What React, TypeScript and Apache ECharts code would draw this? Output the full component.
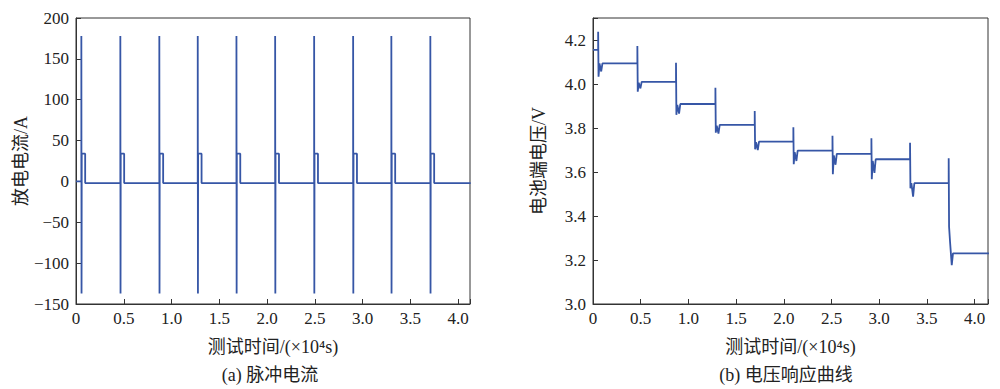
import { useEffect, useRef } from 'react';
import * as echarts from 'echarts';

// ---- (a) pulse current, A ----
const currentPulseTimes = [0.056, 0.464, 0.872, 1.274, 1.679, 2.084, 2.492, 2.9, 3.3, 3.708];
const currentInitial = 0;
const currentSpikeHigh = [178, 178, 178, 178, 178, 178, 178, 178, 178, 178];
const currentSpikeLow = [-137, -137, -137, -137, -137, -137, -137, -137, -137, -137];
const currentPulseLevel = [34, 34, 34, 34, 34, 34, 34, 34, 34, 34];
const currentRest = -2;
const currentPulseWidth = 0.04;
const currentEnd = 4.13;

// ---- (b) terminal voltage response, V ----
const voltagePulseTimes = [0.054, 0.465, 0.87, 1.283, 1.695, 2.1, 2.51, 2.918, 3.323, 3.728];
const voltageInitial = 4.155;
const voltageSpikeUp = [4.238, 4.173, 4.097, 3.983, 3.877, 3.803, 3.765, 3.753, 3.733, 3.662];
const voltageDip1 = [4.033, 3.965, 3.86, 3.779, 3.703, 3.635, 3.59, 3.567, 3.526, 3.351];
const voltageBump = [4.094, 4.006, 3.905, 3.81, 3.735, 3.69, 3.675, 3.65, 3.55, 3.284];
const voltageDip2 = [4.057, 3.98, 3.865, 3.775, 3.7, 3.65, 3.633, 3.596, 3.488, 3.177];
const voltageSettle = [4.094, 4.01, 3.909, 3.814, 3.738, 3.697, 3.682, 3.658, 3.549, 3.23];
const voltageEnd = 4.15;

// axis ranges / ticks
const xMaxA = 4.123;
const xMaxB = 4.14;
const xInterval = 0.5;
const yA = { min: -150, max: 200, interval: 50 };
const yB = { min: 3.0, max: 4.3, interval: 0.2 };

const xName = '测试时间/(×10⁴s)';
const yNameA = '放电电流/A';
const yNameB = '电池端电压/V';
const captionA = '(a) 脉冲电流';
const captionB = '(b) 电压响应曲线';

const LINE = '#3656a6';
const AXIS = '#333333';
const NUM_FONT = 'Liberation Serif';
const FONT = 'Liberation Serif, Noto Sans CJK SC, serif';

function buildCurrent(): number[][] {
  const pts: number[][] = [[0, currentInitial]];
  currentPulseTimes.forEach((t, i) => {
    const prev = i === 0 ? currentInitial : currentRest;
    pts.push([t, prev]);
    pts.push([t, currentSpikeHigh[i]]);
    pts.push([t + 0.002, currentSpikeLow[i]]);
    pts.push([t + 0.004, currentPulseLevel[i]]);
    pts.push([t + currentPulseWidth, currentPulseLevel[i]]);
    pts.push([t + currentPulseWidth, currentRest]);
  });
  pts.push([currentEnd, currentRest]);
  return pts;
}

function buildVoltage(): number[][] {
  const pts: number[][] = [[0, voltageInitial]];
  voltagePulseTimes.forEach((t, i) => {
    const prev = i === 0 ? voltageInitial : voltageSettle[i - 1];
    pts.push([t, prev]);
    pts.push([t, voltageSpikeUp[i]]);
    pts.push([t + 0.004, voltageDip1[i]]);
    pts.push([t + 0.014, voltageBump[i]]);
    pts.push([t + 0.032, voltageDip2[i]]);
    pts.push([t + 0.045, voltageSettle[i]]);
  });
  pts.push([voltageEnd, voltageSettle[voltageSettle.length - 1]]);
  return pts;
}

const isMult = (v: number, step: number) => Math.abs(v / step - Math.round(v / step)) < 1e-6;

function xAxisCfg(gridIndex: number, max: number) {
  return {
    type: 'value',
    gridIndex,
    min: 0,
    max,
    interval: xInterval,
    name: xName,
    nameLocation: 'middle',
    nameGap: 34,
    nameTextStyle: { fontFamily: FONT, fontSize: 18, color: '#222' },
    axisLine: { show: true, onZero: false, lineStyle: { color: AXIS, width: 1 } },
    axisTick: { show: true, inside: true, length: 5, lineStyle: { color: AXIS } },
    axisLabel: {
      fontFamily: NUM_FONT,
      fontSize: 17,
      color: '#222',
      margin: 6,
      formatter: (v: number) => (isMult(v, xInterval) ? (v === 0 ? '0' : v.toFixed(1)) : ''),
    },
    splitLine: { show: false },
  };
}

function yAxisCfg(
  gridIndex: number,
  r: { min: number; max: number; interval: number },
  name: string,
  fmt: (v: number) => string,
) {
  return {
    type: 'value',
    gridIndex,
    min: r.min,
    max: r.max,
    interval: r.interval,
    name,
    nameLocation: 'middle',
    nameGap: 45,
    nameTextStyle: { fontFamily: FONT, fontSize: 18, color: '#222' },
    axisLine: { show: true, onZero: false, lineStyle: { color: AXIS, width: 1 } },
    axisTick: { show: true, inside: true, length: 5, lineStyle: { color: AXIS } },
    axisLabel: {
      fontFamily: NUM_FONT,
      fontSize: 17,
      color: '#222',
      margin: 7,
      formatter: (v: number) => (isMult(v, r.interval) ? fmt(v) : ''),
    },
    splitLine: { show: false },
  };
}

export default function App() {
  const ref = useRef<HTMLDivElement>(null);
  useEffect(() => {
    document.body.style.margin = '0';
    const chart = echarts.init(ref.current!, null, { renderer: 'svg' });
    chart.setOption({
      animation: false,
      backgroundColor: '#ffffff',
      grid: [
        { left: 76, top: 18, width: 394, height: 286, show: true, borderColor: AXIS, borderWidth: 1 },
        { left: 593, top: 18, width: 395, height: 286, show: true, borderColor: AXIS, borderWidth: 1 },
      ],
      xAxis: [xAxisCfg(0, xMaxA), xAxisCfg(1, xMaxB)],
      yAxis: [
        yAxisCfg(0, yA, yNameA, (v) => (v < 0 ? '−' + Math.abs(v) : String(v))),
        yAxisCfg(1, yB, yNameB, (v) => v.toFixed(1)),
      ],
      series: [
        {
          type: 'line',
          xAxisIndex: 0,
          yAxisIndex: 0,
          data: buildCurrent(),
          showSymbol: false,
          lineStyle: { color: LINE, width: 1.8 },
          clip: true,
        },
        {
          type: 'line',
          xAxisIndex: 1,
          yAxisIndex: 1,
          data: buildVoltage(),
          showSymbol: false,
          lineStyle: { color: LINE, width: 1.8 },
          clip: true,
        },
      ],
      graphic: [
        {
          type: 'text',
          x: 270,
          y: 375,
          style: {
            text: captionA,
            fontFamily: FONT,
            fontSize: 18,
            fill: '#222',
            textAlign: 'center',
            textVerticalAlign: 'middle',
          },
        },
        {
          type: 'text',
          x: 786,
          y: 375,
          style: {
            text: captionB,
            fontFamily: FONT,
            fontSize: 18,
            fill: '#222',
            textAlign: 'center',
            textVerticalAlign: 'middle',
          },
        },
      ],
    });
    return () => chart.dispose();
  }, []);
  return <div ref={ref} style={{ width: 1000, height: 389 }} />;
}
